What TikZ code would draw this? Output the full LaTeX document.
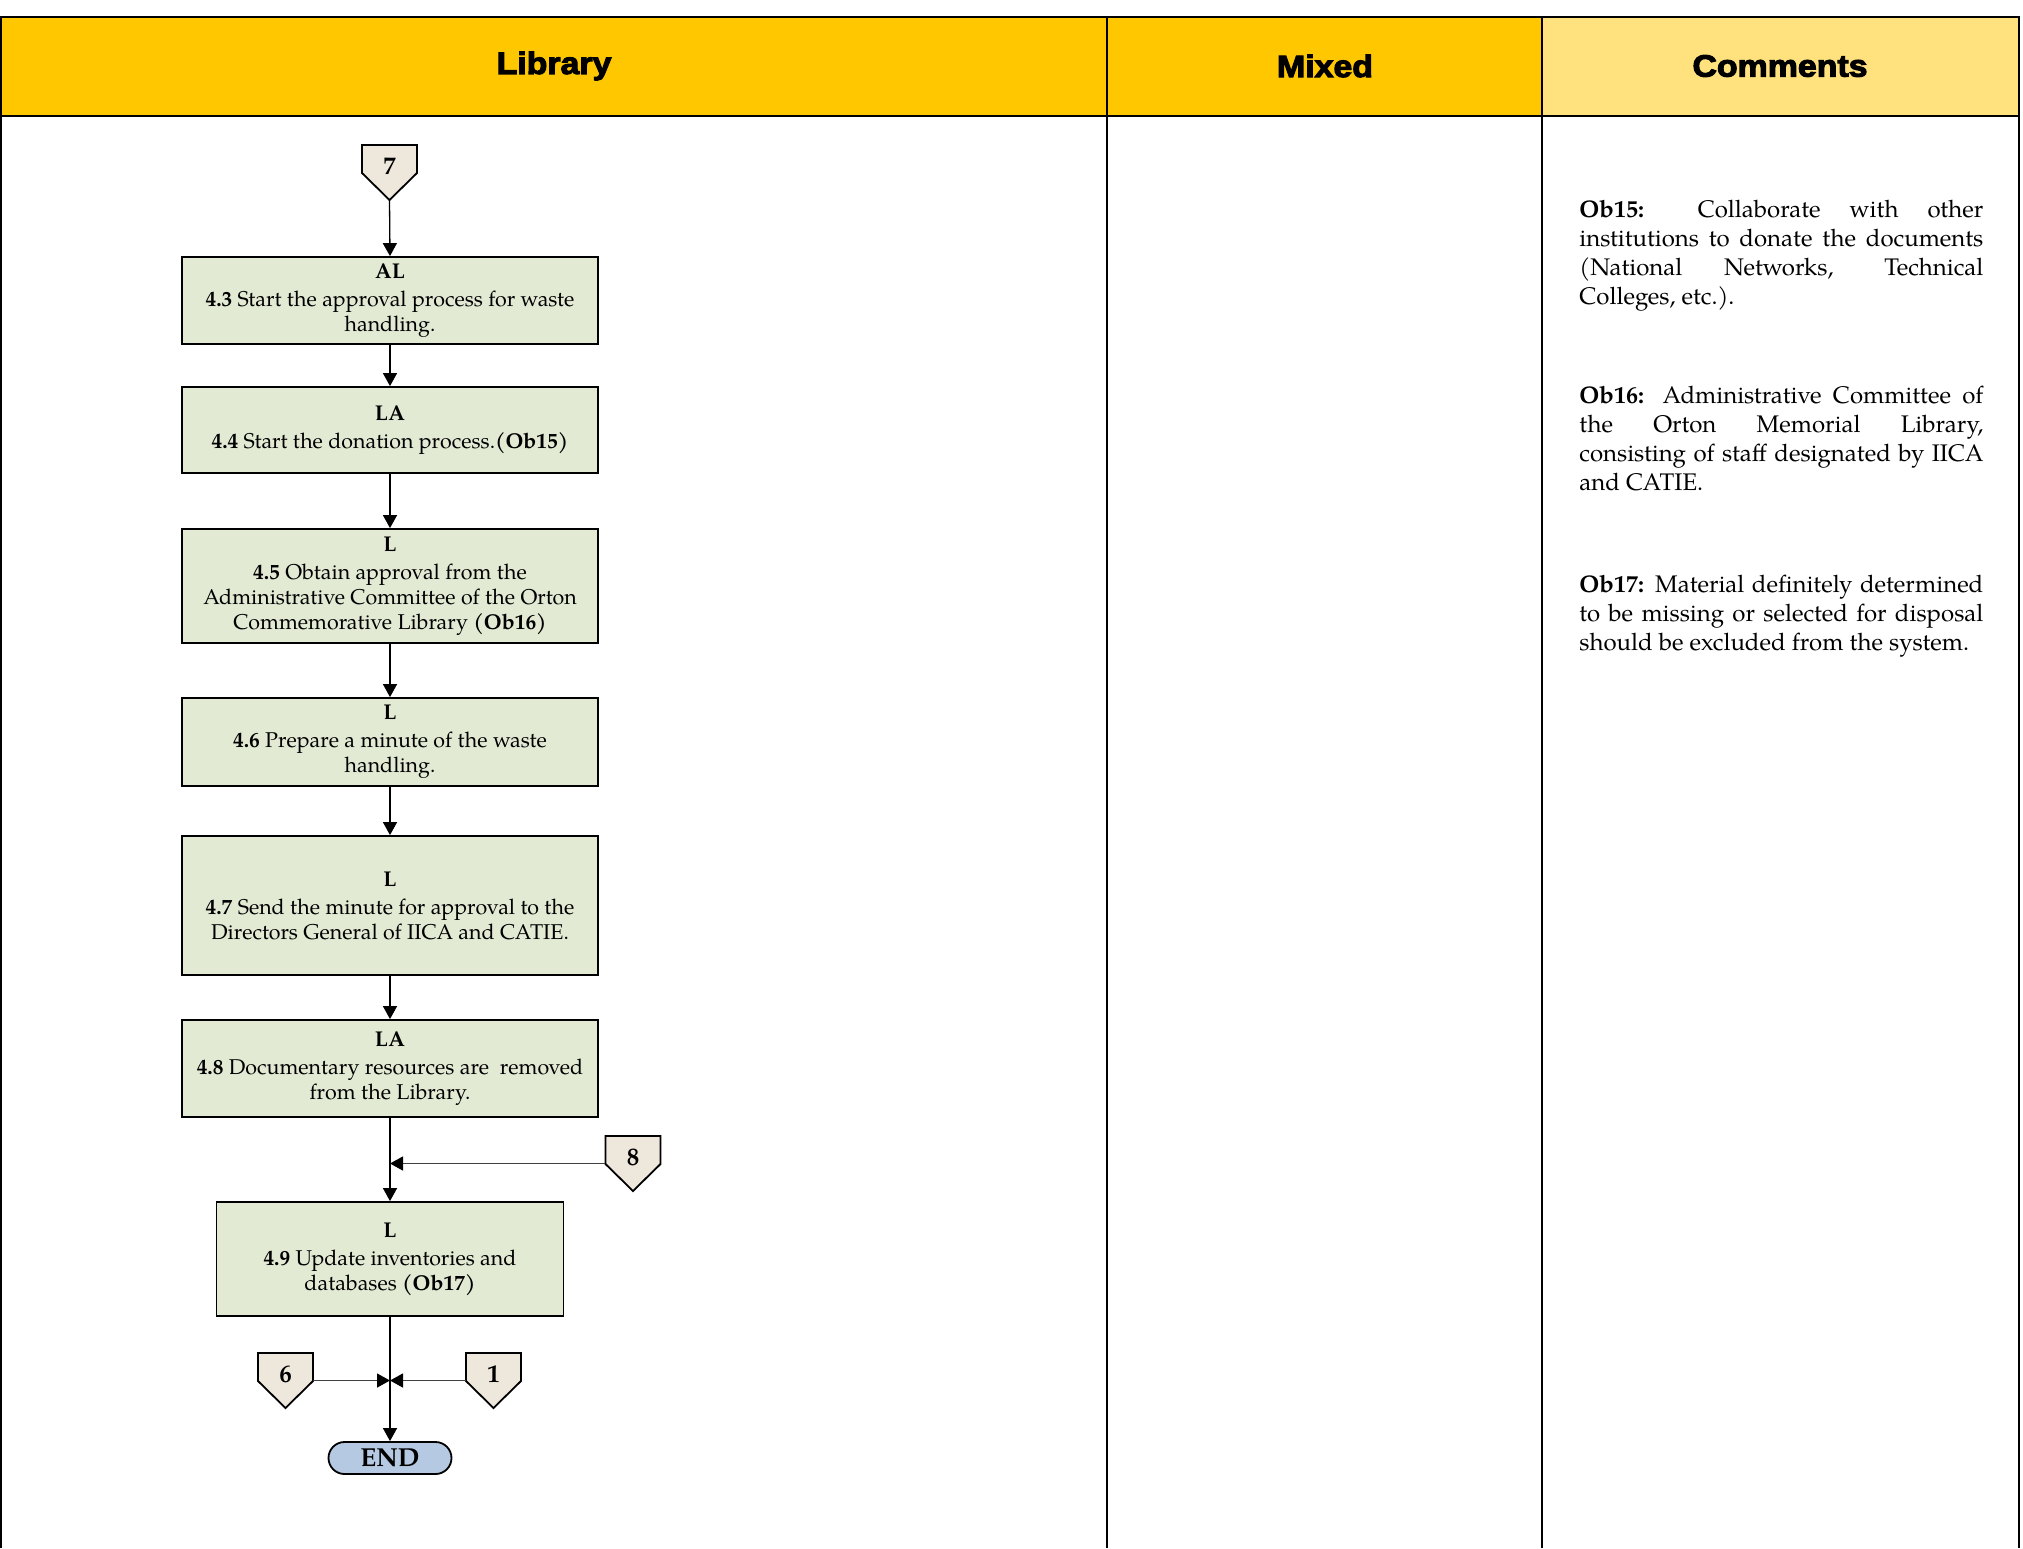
\documentclass[tikz,border=0pt]{standalone}
\usepackage{fontspec}
\setmainfont{TeX Gyre Pagella}
\newfontfamily\headfont{Liberation Sans}[BoldFeatures={FakeBold=3.5,FakeStretch=1.1}]
\usetikzlibrary{arrows.meta}

\definecolor{hdrgold}{HTML}{FFC700}
\definecolor{hdrlight}{HTML}{FFE17E}
\definecolor{stepfill}{HTML}{E2EAD4}
\definecolor{pagefill}{HTML}{EDE7DC}
\definecolor{endfill}{HTML}{B5C9E2}

\tikzset{
  tbl/.style={line width=1.2pt, black},
  hdr/.style={font=\headfont\bfseries\fontsize{15.4}{18}\selectfont, inner sep=0pt},
  stepbox/.style={draw=black, line width=0.9pt, fill=stepfill, align=center,
    minimum width=208pt, inner sep=0pt,
    font=\fontsize{10.7}{12.5}\selectfont},
  offpgshape/.style={draw=black, line width=0.9pt, fill=pagefill, line join=miter},
  offpgbox/.style={draw=none, minimum width=27.5pt, minimum height=27.5pt, inner sep=0pt},
  offpgnum/.style={inner sep=0pt, font=\bfseries\fontsize{12.5}{14}\selectfont},
  endbox/.style={draw=black, line width=0.9pt, fill=endfill, rounded corners=8pt,
    minimum width=61.5pt, minimum height=16pt, inner sep=0pt,
    font=\bfseries\fontsize{13}{15}\selectfont},
  flow/.style={line width=0.65pt, black, -{Triangle[length=6.5pt,width=7pt]}},
  sideflow/.style={line width=0.65pt, black!75, -{Triangle[length=6.5pt,width=7pt,color=black]}},
  note/.style={text width=202pt, align=justify, inner sep=0pt, anchor=base west,
    font=\fontsize{12}{14.65}\selectfont}
}

% off-page connector: name, centre x, top y, number
\newcommand\offpage[4]{%
  \filldraw[offpgshape] (#2-27.5,#3) -- (#2+27.5,#3) -- (#2+27.5,#3+28)
    -- (#2,#3+55) -- (#2-27.5,#3+28) -- cycle;
  \node[offpgbox] (#1) at (#2,#3+27.5) {};
  \node[offpgnum] (#1n) at (#2,#3+21.5) {#4};
}

\begin{document}
\begin{tikzpicture}[x=0.5pt, y=-0.5pt]
\useasboundingbox (0,0) rectangle (2023,1548);

% table header
\fill[hdrgold] (1,17) rectangle (1542,116);
\fill[hdrlight] (1542,17) rectangle (2019,116);
\draw[tbl] (1,1548) -- (1,17) -- (2019,17) -- (2019,1548);
\draw[tbl] (1,116) -- (2019,116);
\draw[tbl] (1107,17) -- (1107,1548);
\draw[tbl] (1542,17) -- (1542,1548);
\node[hdr] (hlib) at (554,66) {Library};
\node[hdr] (hmix) at (1325,66) {Mixed};
\node[hdr] (hcom) at (1780,66) {Comments};

% process steps
\offpage{c7}{389.5}{145}{7}
\node[stepbox, minimum height=43.5pt] (b43) at (390,300.5)
  {\textbf{AL}\\[1.5pt]\textbf{4.3} Start the approval process for waste\\handling.};
\node[stepbox, minimum height=43pt] (b44) at (390,430)
  {\textbf{LA}\\[1.5pt]\textbf{4.4} Start the donation process.\textbf{(Ob15)}};
\node[stepbox, minimum height=57pt] (b45) at (390,586)
  {\textbf{L}\\[1.5pt]\textbf{4.5} Obtain approval from the\\Administrative Committee of the Orton\\Commemorative Library \textbf{(Ob16)}};
\node[stepbox, minimum height=44pt] (b46) at (390,742)
  {\textbf{L}\\[1.5pt]\textbf{4.6} Prepare a minute of the waste\\handling.};
\node[stepbox, minimum height=69.5pt] (b47) at (390,905.5)
  {\textbf{L}\\[1.5pt]\textbf{4.7} Send the minute for approval to the\\Directors General of IICA and CATIE.};
\node[stepbox, minimum height=48.5pt] (b48) at (390,1068.5)
  {\textbf{LA}\\[1.5pt]\textbf{4.8} Documentary resources are\ \ removed\\from the Library.};
\offpage{c8}{633}{1136}{8}
\node[stepbox, minimum width=173.5pt, minimum height=57pt] (b49) at (390,1259)
  {\textbf{L}\\[1.5pt]\textbf{4.9} Update inventories and\\databases \textbf{(Ob17)}};
\offpage{c6}{285.5}{1353}{6}
\offpage{c1}{493.5}{1353}{1}
\node[endbox] (endn) at (390,1458) {END};

\coordinate (j8) at (b48.south |- c8.west);
\coordinate (j1) at (b49.south |- c6.east);

% connectors
\draw[flow] (c7.south) -- (b43.north);
\draw[flow] (b43) -- (b44);
\draw[flow] (b44) -- (b45);
\draw[flow] (b45) -- (b46);
\draw[flow] (b46) -- (b47);
\draw[flow] (b47) -- (b48);
\draw[flow] (b48) -- (b49);
\draw[sideflow] (c8.west) -- (j8);
\draw[flow] (b49) -- (endn);
\draw[sideflow] (c6.east) -- (j1);
\draw[sideflow] (c1.west) -- (j1);

% comments column
\node[note] (ob15) at (1579,217)
  {\textbf{Ob15:} Collaborate with other\linebreak institutions to donate the documents\linebreak (National Networks, Technical\linebreak Colleges, etc.).};
\node[note] (ob16) at (1579,403)
  {\textbf{Ob16:} Administrative Committee of\linebreak the Orton Memorial Library,\linebreak consisting of staff designated by IICA\linebreak and CATIE.};
\node[note] (ob17) at (1579,592)
  {\textbf{Ob17:} Material definitely determined\linebreak to be missing or selected for disposal\linebreak should be excluded from the system.};
\end{tikzpicture}
\end{document}
